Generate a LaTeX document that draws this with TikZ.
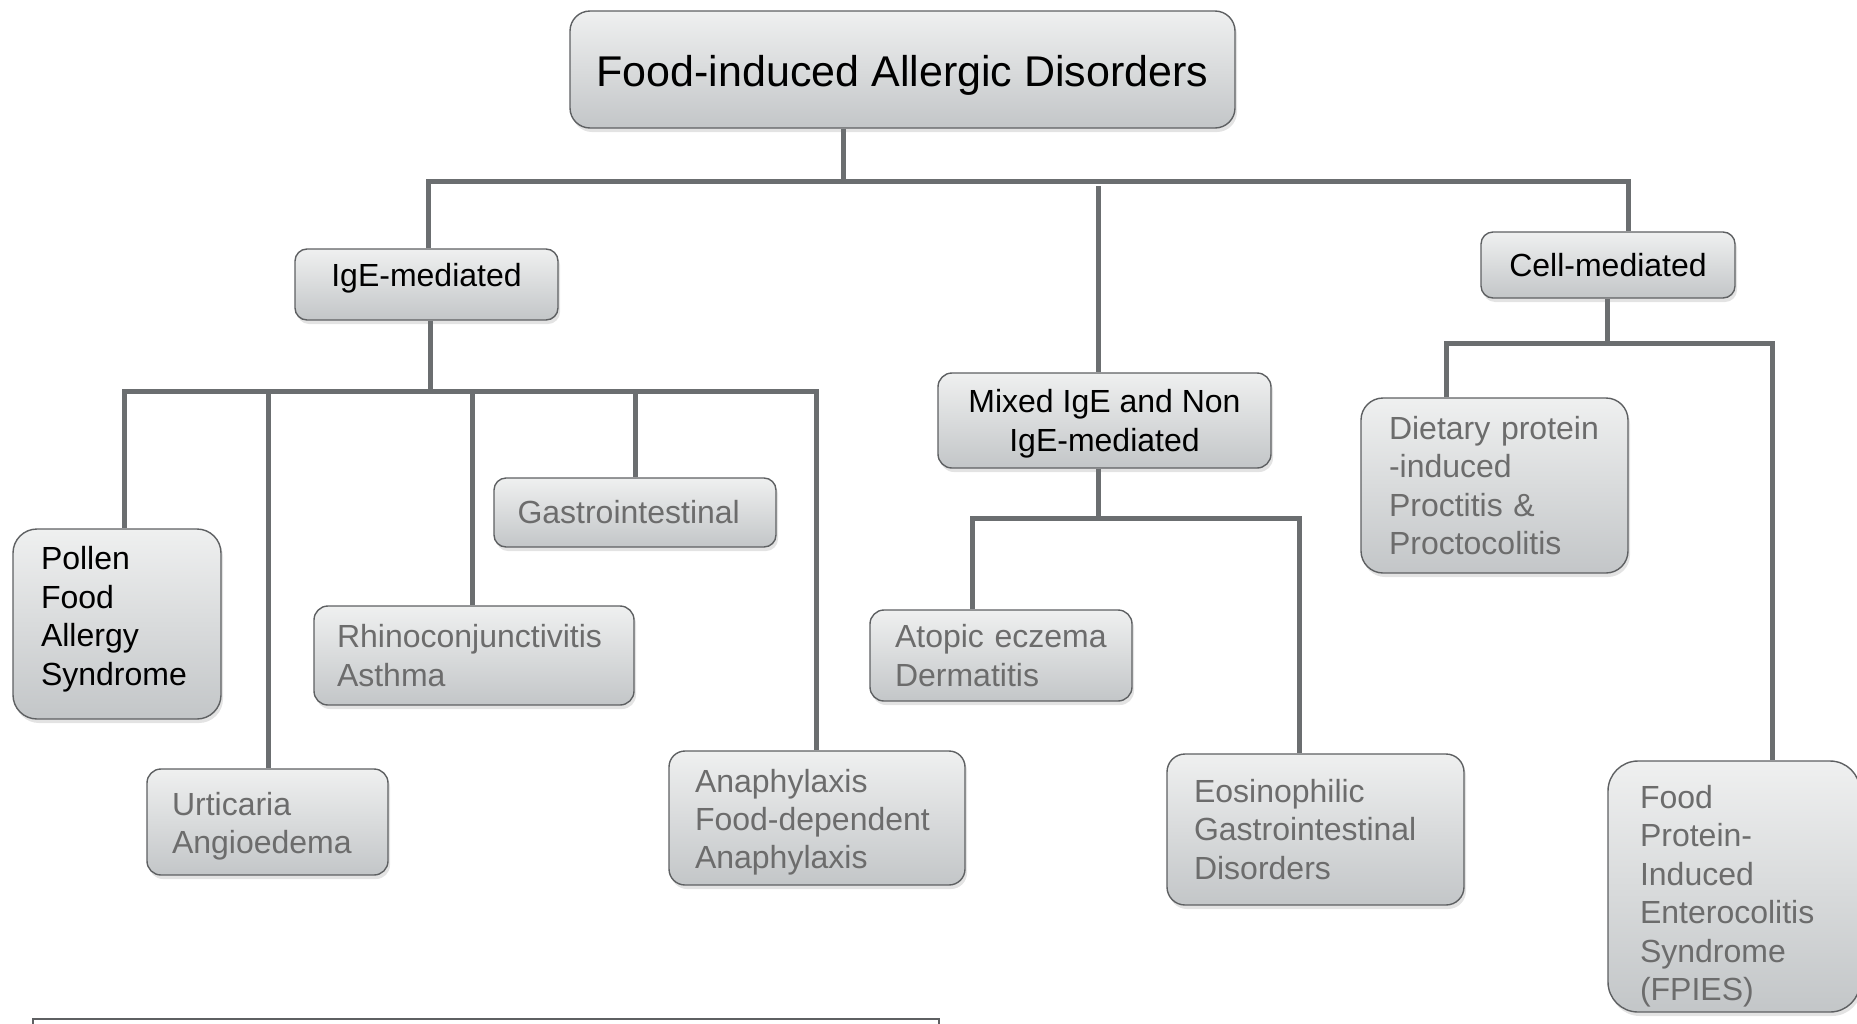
\documentclass[tikz,border=0pt]{standalone}
\usepackage{fontspec}
\setmainfont{Liberation Sans}
\usetikzlibrary{positioning,calc,shadows}

\definecolor{linkgray}{HTML}{6B6E70}
\definecolor{boxtop}{HTML}{EFF0F0}
\definecolor{boxbot}{HTML}{C3C6C8}
\definecolor{edgegray}{HTML}{5E6062}
\definecolor{textgray}{HTML}{6C6C6C}

\begin{document}
\begin{tikzpicture}[x=0.5pt,y=-0.5pt,
        box/.style={draw=edgegray,line width=0.7pt,
          top color=boxtop,bottom color=boxbot,
          drop shadow={shadow xshift=1pt,shadow yshift=-2pt,opacity=0.22},
          font=\fontsize{16}{19.2}\selectfont,inner sep=0pt},
        head/.style={box,text=black,align=center},
        leaf/.style={box,text=textgray,align=left},
        link/.style={draw=linkgray,line width=2.5pt}]
        \useasboundingbox (0,0) rectangle (1857,1023);

        %% Headings.
        \node[head,rounded corners=10pt,minimum width=332.5pt,minimum height=58.5pt,
          font=\fontsize{21.5}{26}\selectfont,text height=21.7pt,text depth=4.5pt]
          (root) at (902.5,69.5) {Food-induced Allergic Disorders};
        \node[head,rounded corners=6pt,minimum width=131.5pt,minimum height=35.5pt,
          text height=11.7pt,text depth=9.4pt]
          (ige) at (426.5,284.5) {IgE-mediated};
        \node[head,rounded corners=7pt,minimum width=166.5pt,minimum height=47.5pt]
          (mixed) at (1104.5,420.5) {\rule{0pt}{14.7pt}Mixed IgE and Non\\IgE-mediated};
        \node[head,rounded corners=6pt,minimum width=127pt,minimum height=33pt]
          (cell) at (1608,265) {Cell-mediated};

        %% IgE-mediated leaves.
        \node[leaf,text=black,rounded corners=12pt,inner xsep=14pt,text width=76pt,minimum height=95pt]
          (pollen) at (117,624) {Pollen\\Food\\Allergy\\Syndrome\rule[-8.2pt]{0pt}{0pt}};
        \node[leaf,rounded corners=7pt,inner xsep=12.5pt,text width=95.5pt,minimum height=53pt]
          (urtic) at (267.5,822) {\rule{0pt}{15.7pt}Urticaria\\Angioedema};
        \node[leaf,rounded corners=7pt,inner xsep=11.5pt,text width=137pt,minimum height=49.5pt]
          (rhino) at (474,655.5) {Rhinoconjunctivitis\\Asthma};
        \node[leaf,rounded corners=6pt,inner xsep=11.75pt,text width=117.5pt,minimum height=34.5pt]
          (gastro) at (635,512.5) {Gastrointestinal};
        \node[leaf,rounded corners=8pt,inner xsep=13pt,text width=122pt,minimum height=67pt]
          (anaph) at (817,818) {\rule{0pt}{15.9pt}Anaphylaxis\\Food-dependent\\Anaphylaxis};

        %% Mixed leaves.
        \node[leaf,rounded corners=7pt,inner xsep=12.5pt,text width=106pt,minimum height=45.5pt]
          (atopic) at (1001,655.5) {Atopic eczema\\Dermatitis};
        \node[leaf,rounded corners=9pt,inner xsep=13.5pt,text width=121.5pt,minimum height=75.5pt]
          (eos) at (1315.5,829.5) {Eosinophilic\\Gastrointestinal\\Disorders};

        %% Cell-mediated leaves.
        \node[leaf,rounded corners=11pt,inner xsep=14pt,text width=105.5pt,minimum height=87.5pt]
          (diet) at (1494.5,485.5) {Dietary protein\\-induced\\Proctitis \&\\Proctocolitis};
        \node[leaf,rounded corners=15pt,inner xsep=16pt,text width=94pt,minimum height=125.5pt]
          (fpies) at (1734,886.5) {\rule{0pt}{21.2pt}Food\\Protein-\\Induced\\Enterocolitis\\Syndrome\\(FPIES)};

        %% Bar ends and stems.
        \path (428,181) coordinate (topL) (843,181) coordinate (topM)
              (1098,181) coordinate (topX) (1628,181) coordinate (topR)
              (124,391) coordinate (igeL) (430,391) coordinate (igeM)
              (816,391) coordinate (igeR)
              (972,518) coordinate (mixL) (1098,518) coordinate (mixM)
              (1299,518) coordinate (mixR)
              (1446,343) coordinate (cellL) (1607,343) coordinate (cellM)
              (1772,343) coordinate (cellR);

        % top level
        \draw[link] (root.south -| topM) -- (topM);
        \draw[link] (ige.north -| topL) -- (topL) -- (topR) -- (cell.north -| topR);
        \draw[link] ([yshift=-2.5pt]topX) -- (mixed.north -| topX);

        % IgE-mediated
        \draw[link] (ige.south -| igeM) -- (igeM);
        \draw[link] (pollen.north -| igeL) -- (igeL) -- (igeR) -- (anaph.north -| igeR);
        \foreach \kid/\x in {urtic/268,rhino/472,gastro/635} {
          \draw[link] (\x,391) -- (\kid.north -| {(\x,391)});
        }

        % mixed
        \draw[link] (mixed.south -| mixM) -- (mixM);
        \draw[link] (atopic.north -| mixL) -- (mixL) -- (mixR) -- (eos.north -| mixR);

        % cell-mediated
        \draw[link] (cell.south -| cellM) -- (cellM);
        \draw[link] (diet.north -| cellL) -- (cellL) -- (cellR) -- (fpies.north -| cellR);

        %% Box cut off at the bottom.
        \draw[edgegray,line width=0.8pt] (33,1019) rectangle (939,1080);
      \end{tikzpicture}
\end{document}
